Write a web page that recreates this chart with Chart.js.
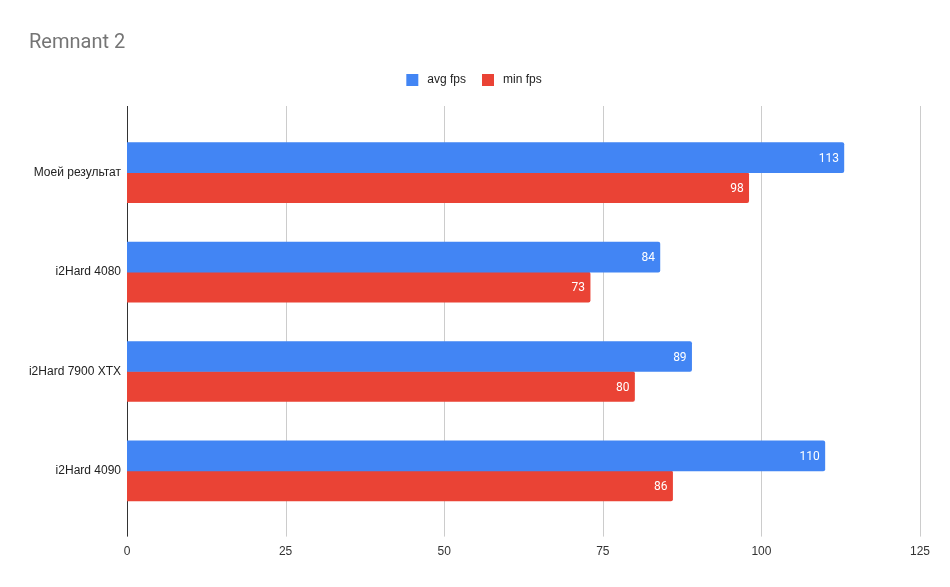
<!DOCTYPE html>
<html>
<head>
<meta charset="utf-8">
<script src="https://cdn.jsdelivr.net/npm/chart.js@4"></script>
<style>
html,body{margin:0;padding:0;background:#fff;}
#wrap{width:950px;height:587px;position:relative;}
</style>
</head>
<body>
<div id="wrap"><canvas id="c" width="950" height="587"></canvas></div>
<script>
const chartTitle = "Remnant 2";
const categories = ["Моей результат", "i2Hard 4080", "i2Hard 7900 XTX", "i2Hard 4090"];
const seriesNames = ["avg fps", "min fps"];
const avgFps = [113, 84, 89, 110];
const minFps = [98, 73, 80, 86];
const xTicks = [0, 25, 50, 75, 100, 125];

const extendedGrid = {
  id: 'extendedGrid',
  beforeDatasetsDraw(chart) {
    const ctx = chart.ctx, x = chart.scales.x, a = chart.chartArea;
    ctx.save();
    x.ticks.forEach(t => {
      const px = Math.round(x.getPixelForValue(t.value)) + 0.5;
      ctx.strokeStyle = t.value === 0 ? '#333333' : '#cccccc';
      ctx.lineWidth = 1;
      ctx.beginPath();
      ctx.moveTo(px, a.top - 17);
      ctx.lineTo(px, a.bottom + 16);
      ctx.stroke();
    });
    ctx.restore();
  }
};

const valueLabels = {
  id: 'valueLabels',
  afterDatasetsDraw(chart) {
    const ctx = chart.ctx;
    ctx.save();
    ctx.font = '12px Roboto';
    ctx.fillStyle = '#ffffff';
    ctx.textAlign = 'right';
    ctx.textBaseline = 'middle';
    chart.data.datasets.forEach((ds, i) => {
      chart.getDatasetMeta(i).data.forEach((bar, j) => {
        ctx.fillText(String(ds.data[j]), bar.x - 5, bar.y + 1);
      });
    });
    ctx.restore();
  }
};

const legendTweak = {
  id: 'legendTweak',
  beforeInit(chart) {
    const lg = chart.legend;
    const origFit = lg.fit;
    lg.fit = function() { origFit.call(this); this.height += 24; };
  },
  afterLayout(chart) {
    const lg = chart.legend;
    lg.left -= 2; lg.right -= 2;
  }
};

new Chart(document.getElementById('c'), {
  type: 'bar',
  data: {
    labels: categories,
    datasets: [
      { label: seriesNames[0], data: avgFps, backgroundColor: '#4285F4' },
      { label: seriesNames[1], data: minFps, backgroundColor: '#EA4335' }
    ]
  },
  options: {
    indexAxis: 'y',
    responsive: false,
    animation: false,
    devicePixelRatio: 1,
    layout: { padding: { left: 29, right: 30, top: 0, bottom: 4 } },
    datasets: { bar: { barThickness: 30, categoryPercentage: 0.643, borderRadius: 2, borderSkipped: 'start' } },
    scales: {
      x: {
        min: 0, max: 125,
        afterBuildTicks(scale) { scale.ticks = xTicks.map(v => ({ value: v })); },
        afterFit(scale) { scale.paddingRight = 10; scale.paddingLeft = 5; },
        grid: { display: false, drawTicks: false },
        border: { display: false },
        ticks: { padding: 24, color: '#333333', font: { family: 'Liberation Sans, Arial', size: 12 } }
      },
      y: {
        afterFit(scale) { scale.width = 98; },
        grid: { display: false, drawTicks: false },
        border: { display: false },
        ticks: { padding: 6, color: '#222222', font: { family: 'Liberation Sans, Arial', size: 12 } }
      }
    },
    plugins: {
      title: {
        display: true, text: chartTitle, align: 'start', color: '#757575',
        font: { family: 'Roboto', size: 20, weight: 'normal' },
        padding: { top: 31, bottom: 3 }
      },
      legend: {
        display: true, position: 'top', align: 'center',
        labels: {
          boxWidth: 18, boxHeight: 18, padding: 13, color: '#222222',
          font: { family: 'Liberation Sans, Arial', size: 12 },
          generateLabels(chart) {
            return chart.data.datasets.map((ds, i) => ({
              text: ds.label, fillStyle: ds.backgroundColor, strokeStyle: '#ffffff',
              lineWidth: 6, hidden: false, datasetIndex: i, fontColor: '#222222'
            }));
          }
        }
      },
      tooltip: { enabled: false }
    }
  },
  plugins: [extendedGrid, valueLabels, legendTweak]
});
</script>
</body>
</html>
